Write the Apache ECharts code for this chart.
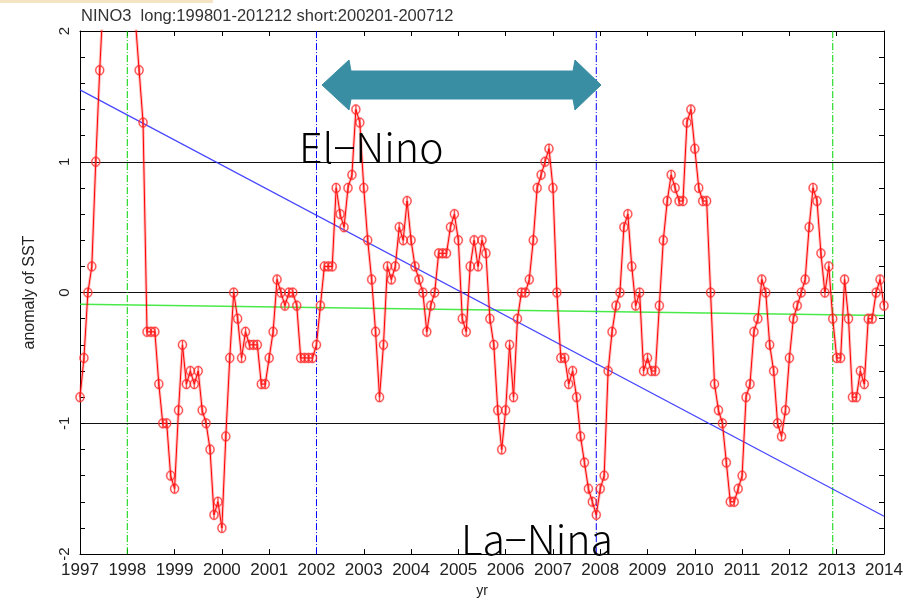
<!DOCTYPE html>
<html><head><meta charset="utf-8">
<script src="https://cdn.jsdelivr.net/npm/echarts@6/dist/echarts.min.js"></script>
<style>html,body{margin:0;padding:0;background:#fff}#c{width:906px;height:603px}</style>
</head><body><div id="c"></div>
<script>
// ---- data (monthly NINO3 SST anomaly) ----
const startYear = 1997;
const sst1997 = [-0.8, -0.5, 0.0, 0.2, 1.0, 1.7, 2.3, 2.7, 3.0, 3.3, 3.6, 3.7];
const sst1998 = [3.5, 3.0, 2.1, 1.7, 1.3, -0.3, -0.3, -0.3, -0.7, -1.0, -1.0, -1.4];
const sst1999 = [-1.5, -0.9, -0.4, -0.7, -0.6, -0.7, -0.6, -0.9, -1.0, -1.2, -1.7, -1.6];
const sst2000 = [-1.8, -1.1, -0.5, 0.0, -0.2, -0.5, -0.3, -0.4, -0.4, -0.4, -0.7, -0.7];
const sst2001 = [-0.5, -0.3, 0.1, 0.0, -0.1, 0.0, 0.0, -0.1, -0.5, -0.5, -0.5, -0.5];
const sst2002 = [-0.4, -0.1, 0.2, 0.2, 0.2, 0.8, 0.6, 0.5, 0.8, 0.9, 1.4, 1.3];
const sst2003 = [0.8, 0.4, 0.1, -0.3, -0.8, -0.4, 0.2, 0.1, 0.2, 0.5, 0.4, 0.7];
const sst2004 = [0.4, 0.2, 0.1, 0.0, -0.3, -0.1, 0.0, 0.3, 0.3, 0.3, 0.5, 0.6];
const sst2005 = [0.4, -0.2, -0.3, 0.2, 0.4, 0.2, 0.4, 0.3, -0.2, -0.4, -0.9, -1.2];
const sst2006 = [-0.9, -0.4, -0.8, -0.2, 0.0, 0.0, 0.1, 0.4, 0.8, 0.9, 1.0, 1.1];
const sst2007 = [0.8, 0.0, -0.5, -0.5, -0.7, -0.6, -0.8, -1.1, -1.3, -1.5, -1.6, -1.7];
const sst2008 = [-1.5, -1.4, -0.6, -0.3, -0.1, 0.0, 0.5, 0.6, 0.2, -0.1, 0.0, -0.6];
const sst2009 = [-0.5, -0.6, -0.6, -0.1, 0.4, 0.7, 0.9, 0.8, 0.7, 0.7, 1.3, 1.4];
const sst2010 = [1.1, 0.8, 0.7, 0.7, 0.0, -0.7, -0.9, -1.0, -1.3, -1.6, -1.6, -1.5];
const sst2011 = [-1.4, -0.8, -0.7, -0.3, -0.2, 0.1, 0.0, -0.4, -0.6, -1.0, -1.1, -0.9];
const sst2012 = [-0.5, -0.2, -0.1, 0.0, 0.1, 0.5, 0.8, 0.7, 0.3, 0.0, 0.2, -0.2];
const sst2013 = [-0.5, -0.5, 0.1, -0.2, -0.8, -0.8, -0.6, -0.7, -0.2, -0.2, 0.0, 0.1];
const sst2014 = [-0.1];
const sstByYear = [sst1997, sst1998, sst1999, sst2000, sst2001, sst2002, sst2003, sst2004, sst2005,
  sst2006, sst2007, sst2008, sst2009, sst2010, sst2011, sst2012, sst2013, sst2014];

const xRange = [1997, 2014];
const yRange = [-2, 2];
const longPeriod = ['199801', '201212'];
const shortPeriod = ['200201', '200712'];
// trend lines: value at xRange[0] and at xRange[1]
const shortTrend = [1.55, -1.71];
const longTrend = [-0.09, -0.175];
const titleText = 'NINO3  long:199801-201212 short:200201-200712';
const elNinoText = 'El\u2212Nino';
const laNinaText = 'La\u2212Nina';

// ---- build ----
const sstData = [];
sstByYear.forEach((arr, k) => arr.forEach((v, m) => sstData.push([startYear + k + m / 12, v])));
const periodX = p => Number(p.slice(0, 4)) + (Number(p.slice(4)) - 1) / 12;

const chart = echarts.init(document.getElementById('c'), null, { renderer: 'canvas' });
const sym = 'path://M5,0 A5,5 0 1 1 5,10 A5,5 0 1 1 5,0 Z M5,0 L5,10';
const dashDot = [7, 2, 1, 2];
const vLineSeries = (x, color) => ({
  type: 'line', silent: true, z: 1, symbol: 'none',
  data: [[x, yRange[0]], [x, yRange[1]]],
  lineStyle: { color: color, width: 1, type: dashDot }
});

const baseFont = 'Liberation Sans, Arial, sans-serif';
const axisCommon = {
  axisLine: { show: true, onZero: false, lineStyle: { color: '#000', width: 1 } },
  axisTick: { show: true, inside: true, length: 5, lineStyle: { color: '#000' } }
};

chart.setOption({
  animation: false,
  backgroundColor: '#fff',
  textStyle: { fontFamily: baseFont },
  grid: { left: 80, right: 22, top: 31, bottom: 40, containLabel: false },
  xAxis: [
    Object.assign({
      type: 'value', min: xRange[0], max: xRange[1], interval: 1, position: 'bottom',
      name: 'yr', nameLocation: 'middle', nameGap: 27,
      nameTextStyle: { fontSize: 14, color: '#222', fontFamily: baseFont },
      axisLabel: { fontSize: 17, color: '#222', margin: 8, fontFamily: baseFont, formatter: v => String(v) },
      splitLine: { show: false }
    }, axisCommon),
    Object.assign({
      type: 'value', min: xRange[0], max: xRange[1], interval: 1, position: 'top',
      axisLabel: { show: false }, splitLine: { show: false }
    }, axisCommon)
  ],
  yAxis: [
    Object.assign({
      type: 'value', min: yRange[0], max: yRange[1], interval: 1, position: 'left',
      name: 'anomaly of SST', nameLocation: 'middle', nameRotate: 90, nameGap: 42,
      nameTextStyle: { fontSize: 16, color: '#222', fontFamily: baseFont },
      axisLabel: { rotate: 90, fontSize: 15, color: '#222', margin: 8, fontFamily: baseFont, formatter: v => String(v) },
      minorTick: { show: true, splitNumber: 5, length: 5, lineStyle: { color: '#000' } },
      splitLine: { show: true, lineStyle: { color: '#111', width: 1.2 } }
    }, axisCommon),
    Object.assign({
      type: 'value', min: yRange[0], max: yRange[1], interval: 1, position: 'right',
      axisLabel: { show: false },
      minorTick: { show: true, splitNumber: 5, length: 5, lineStyle: { color: '#000' } },
      splitLine: { show: false }
    }, axisCommon)
  ],
  title: {
    text: titleText, left: 76, top: 3,
    textStyle: { fontSize: 16.5, fontWeight: 'normal', color: '#333', fontFamily: baseFont }
  },
  series: [
    vLineSeries(periodX(longPeriod[0]), '#00d000'),
    vLineSeries(periodX(longPeriod[1]), '#00d000'),
    vLineSeries(periodX(shortPeriod[0]), '#0000ff'),
    vLineSeries(periodX(shortPeriod[1]), '#0000ff'),
    {
      type: 'line', z: 2, symbol: 'none', silent: true,
      data: [[xRange[0], longTrend[0]], [xRange[1], longTrend[1]]],
      lineStyle: { color: 'rgba(40,230,40,0.85)', width: 1.6 }
    },
    {
      type: 'line', z: 2, symbol: 'none', silent: true,
      data: [[xRange[0], shortTrend[0]], [xRange[1], shortTrend[1]]],
      lineStyle: { color: 'rgba(50,50,255,0.9)', width: 1.2 }
    },
    {
      type: 'line', z: 3, silent: true, clip: true, data: sstData,
      symbol: sym, symbolSize: [8, 9], showAllSymbol: true,
      lineStyle: { color: 'rgba(255,0,0,0.25)', width: 3 },
      itemStyle: { color: 'none', borderColor: 'rgba(255,80,80,0.4)', borderWidth: 2.2 }
    },
    {
      type: 'line', z: 4, silent: true, clip: true, data: sstData,
      symbol: sym, symbolSize: [8, 9], showAllSymbol: true,
      lineStyle: { color: '#ff0000', width: 1 },
      itemStyle: { color: 'none', borderColor: '#ff2020', borderWidth: 0.8 }
    }
  ],
  graphic: [
    {
      type: 'rect', left: 0, top: 0, z: 0, silent: true,
      shape: { width: 213, height: 3 }, style: { fill: '#f4e4c4' }
    },
    {
      type: 'polygon', z: 10, silent: true,
      shape: { points: [[322, 85], [349, 60], [351, 71], [573, 71], [575, 60], [601, 85], [575, 110], [573, 99], [351, 99], [349, 110]] },
      style: { fill: '#3a8ea4', lineJoin: 'round', stroke: '#3a8ea4', lineWidth: 1 }
    },
    {
      type: 'text', z: 10, silent: true, x: 299, y: 147,
      style: { text: elNinoText, fill: '#000', font: '300 41px "Noto Sans CJK JP"', textVerticalAlign: 'middle' }
    },
    {
      type: 'text', z: 10, silent: true, x: 461, y: 539,
      style: { text: laNinaText, fill: '#000', font: '300 41px "Noto Sans CJK JP"', textVerticalAlign: 'middle' }
    }
  ]
});
</script>
</body></html>
